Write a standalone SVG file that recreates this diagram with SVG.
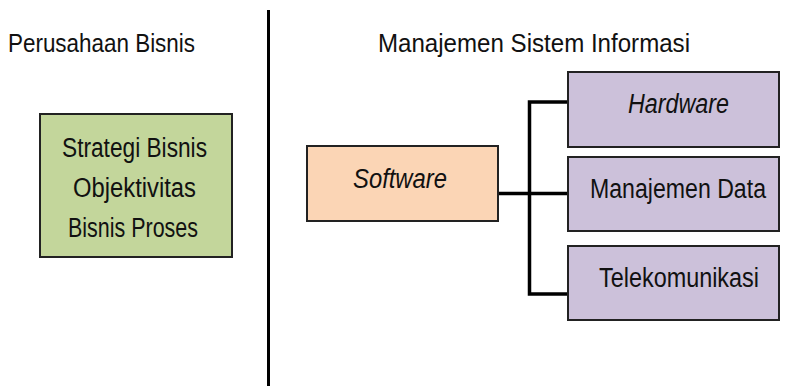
<svg xmlns="http://www.w3.org/2000/svg" width="787" height="386" viewBox="0 0 787 386">
  <style>
    text { font-family: "Liberation Sans Narrow", "Liberation Sans", Arial, sans-serif; font-size: 27px; fill: #111; }
    .head { font-size: 25px; }
    .it { font-style: italic; }
    .box { stroke: #222; stroke-width: 2; }
    .green { fill: #c3d69b; }
    .orange { fill: #fbd5b5; }
    .purple { fill: #ccc1da; }
    .link { fill: none; stroke: #000; stroke-width: 3.5; }
  </style>
  <rect width="787" height="386" fill="#fff"/>

  <!-- section headers and divider -->
  <g id="headers">
    <text class="head" x="8" y="52" textLength="187" lengthAdjust="spacingAndGlyphs">Perusahaan Bisnis</text>
    <text class="head" x="378" y="52" textLength="312" lengthAdjust="spacingAndGlyphs">Manajemen Sistem Informasi</text>
    <line x1="268.5" y1="10" x2="268.5" y2="386" stroke="#000" stroke-width="3"/>
  </g>

  <!-- connectors -->
  <g id="connectors">
    <path class="link" d="M498 193.5 H567"/>
    <path class="link" d="M567 102 H529.5 V294 H567"/>
  </g>

  <g id="business">
    <rect class="box green" x="40" y="114" width="192" height="143"/>
    <text x="62" y="157" textLength="145" lengthAdjust="spacingAndGlyphs">Strategi Bisnis</text>
    <text x="73" y="197" textLength="123" lengthAdjust="spacingAndGlyphs">Objektivitas</text>
    <text x="68" y="237" textLength="130" lengthAdjust="spacingAndGlyphs">Bisnis Proses</text>
  </g>

  <g id="software">
    <rect class="box orange" x="307" y="146" width="191" height="75"/>
    <text class="it" x="353" y="188" textLength="94" lengthAdjust="spacingAndGlyphs">Software</text>
  </g>

  <g id="hardware">
    <rect class="box purple" x="568" y="72" width="211" height="75"/>
    <text class="it" x="628" y="113" textLength="101" lengthAdjust="spacingAndGlyphs">Hardware</text>
  </g>

  <g id="data">
    <rect class="box purple" x="568" y="157" width="211" height="74"/>
    <text x="590" y="198" font-size="25" textLength="176" lengthAdjust="spacingAndGlyphs">Manajemen Data</text>
  </g>

  <g id="telecom">
    <rect class="box purple" x="568" y="246" width="211" height="74"/>
    <text x="599" y="287" textLength="160" lengthAdjust="spacingAndGlyphs">Telekomunikasi</text>
  </g>
</svg>
